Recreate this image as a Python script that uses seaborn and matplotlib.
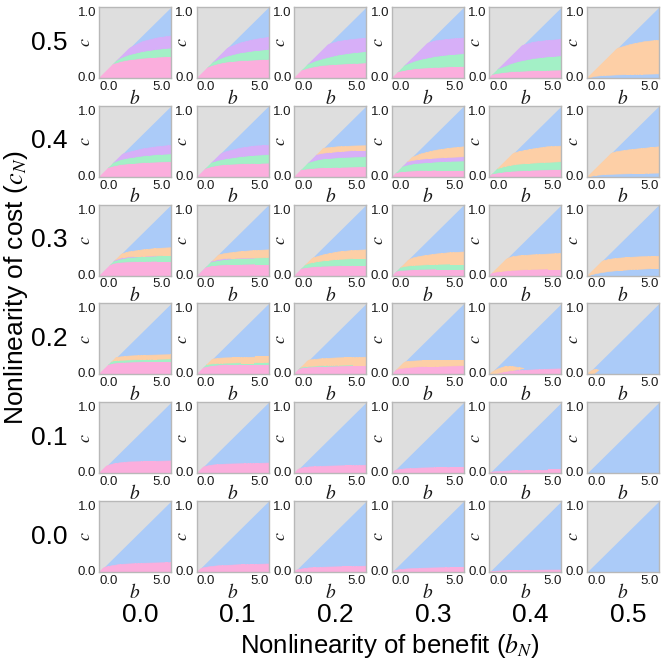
import matplotlib.pyplot as plt
import seaborn as sns
import numpy as np
from matplotlib.patches import Polygon

sns.set_theme(style="white")
plt.rcParams["font.family"] = ["Liberation Sans", "DejaVu Sans"]
plt.rcParams["mathtext.fontset"] = "stix"

# --- data ---
b_grid = [0, 0.5, 1, 1.5, 2, 3, 4, 5]          # benefit b (x of each panel)
b_nonlin = ["0.0", "0.1", "0.2", "0.3", "0.4", "0.5"]   # columns
c_nonlin = ["0.5", "0.4", "0.3", "0.2", "0.1", "0.0"]   # rows, top to bottom

colors = {
    "gray": "#dedede",
    "blue": "#abcbf8",
    "pink": "#fbaedd",
    "green": "#a3f0c6",
    "purple": "#d7aff8",
    "orange": "#fdcfa6",
}

# bands from the bottom up: (colour, upper boundary of c on b_grid)
# the region above the last band and below c = b/5 is blue
row_c05 = [
    [("pink",   [0.12, 0.17, 0.21, 0.24, 0.26, 0.285, 0.30, 0.31]),
     ("green",  [0.15, 0.19, 0.23, 0.29, 0.33, 0.38, 0.41, 0.43]),
     ("purple", [0.30, 0.33, 0.36, 0.39, 0.42, 0.52, 0.57, 0.60])],
    [("pink",   [0.10, 0.14, 0.18, 0.21, 0.23, 0.25, 0.26, 0.27]),
     ("green",  [0.14, 0.18, 0.22, 0.27, 0.31, 0.36, 0.39, 0.41]),
     ("purple", [0.30, 0.32, 0.35, 0.38, 0.42, 0.50, 0.55, 0.58])],
    [("pink",   [0.08, 0.12, 0.15, 0.17, 0.185, 0.20, 0.21, 0.22]),
     ("green",  [0.12, 0.16, 0.21, 0.25, 0.28, 0.33, 0.36, 0.38]),
     ("purple", [0.30, 0.34, 0.38, 0.42, 0.46, 0.52, 0.55, 0.57])],
    [("pink",   [0.07, 0.10, 0.12, 0.135, 0.145, 0.155, 0.165, 0.17]),
     ("green",  [0.10, 0.15, 0.20, 0.24, 0.27, 0.31, 0.335, 0.35]),
     ("purple", [0.30, 0.35, 0.40, 0.44, 0.47, 0.53, 0.555, 0.57])],
    [("pink",   [0.05, 0.07, 0.085, 0.095, 0.10, 0.11, 0.115, 0.12]),
     ("green",  [0.10, 0.13, 0.17, 0.21, 0.24, 0.28, 0.305, 0.32]),
     ("purple", [0.30, 0.34, 0.38, 0.42, 0.45, 0.51, 0.535, 0.55])],
    [("blue",   [0.0, 0.03, 0.04, 0.045, 0.05, 0.055, 0.06, 0.065]),
     ("orange", [0.20, 0.25, 0.30, 0.36, 0.42, 0.48, 0.52, 0.54])],
]

row_c04 = [
    [("pink",   [0.10, 0.13, 0.16, 0.18, 0.19, 0.205, 0.215, 0.22]),
     ("green",  [0.13, 0.17, 0.21, 0.25, 0.27, 0.30, 0.32, 0.33]),
     ("purple", [0.20, 0.25, 0.29, 0.32, 0.35, 0.40, 0.43, 0.45])],
    [("pink",   [0.09, 0.12, 0.15, 0.17, 0.18, 0.19, 0.195, 0.20]),
     ("green",  [0.13, 0.17, 0.21, 0.24, 0.26, 0.29, 0.31, 0.32]),
     ("purple", [0.20, 0.25, 0.29, 0.32, 0.36, 0.41, 0.44, 0.45])],
    [("pink",   [0.07, 0.11, 0.12, 0.13, 0.135, 0.14, 0.145, 0.15]),
     ("green",  [0.12, 0.16, 0.21, 0.24, 0.26, 0.275, 0.285, 0.29]),
     ("purple", [0.20, 0.25, 0.29, 0.32, 0.34, 0.36, 0.375, 0.38]),
     ("orange", [0.30, 0.33, 0.36, 0.39, 0.41, 0.43, 0.44, 0.445])],
    [("pink",   [0.05, 0.075, 0.085, 0.09, 0.095, 0.10, 0.10, 0.10]),
     ("green",  [0.10, 0.14, 0.17, 0.19, 0.20, 0.215, 0.225, 0.23]),
     ("purple", [0.15, 0.19, 0.22, 0.24, 0.255, 0.27, 0.28, 0.29]),
     ("orange", [0.20, 0.24, 0.27, 0.29, 0.33, 0.38, 0.41, 0.43])],
    [("pink",   [0.04, 0.06, 0.075, 0.085, 0.09, 0.10, 0.105, 0.11]),
     ("green",  [0.08, 0.12, 0.15, 0.17, 0.185, 0.20, 0.21, 0.22]),
     ("orange", [0.25, 0.28, 0.31, 0.33, 0.36, 0.40, 0.43, 0.44])],
    [("blue",   [0.0, 0.025, 0.035, 0.04, 0.045, 0.05, 0.055, 0.06]),
     ("orange", [0.25, 0.28, 0.31, 0.33, 0.36, 0.39, 0.41, 0.43])],
]

row_c03 = [
    [("pink",   [0.10, 0.14, 0.18, 0.195, 0.20, 0.205, 0.21, 0.21]),
     ("green",  [0.13, 0.17, 0.21, 0.24, 0.26, 0.275, 0.285, 0.29]),
     ("purple", [0.14, 0.18, 0.22, 0.255, 0.27, 0.278, 0.285, 0.29]),
     ("orange", [0.20, 0.24, 0.27, 0.31, 0.34, 0.37, 0.39, 0.40])],
    [("pink",   [0.09, 0.12, 0.145, 0.155, 0.16, 0.165, 0.17, 0.17]),
     ("green",  [0.12, 0.16, 0.20, 0.22, 0.235, 0.25, 0.255, 0.26]),
     ("purple", [0.13, 0.17, 0.21, 0.235, 0.247, 0.253, 0.255, 0.26]),
     ("orange", [0.20, 0.24, 0.27, 0.30, 0.32, 0.345, 0.36, 0.37])],
    [("pink",   [0.07, 0.11, 0.125, 0.135, 0.14, 0.145, 0.15, 0.15]),
     ("green",  [0.10, 0.14, 0.18, 0.20, 0.215, 0.235, 0.245, 0.25]),
     ("orange", [0.15, 0.20, 0.24, 0.27, 0.30, 0.34, 0.36, 0.37])],
    [("pink",   [0.05, 0.08, 0.085, 0.09, 0.095, 0.10, 0.10, 0.10]),
     ("green",  [0.08, 0.12, 0.14, 0.15, 0.155, 0.165, 0.17, 0.17]),
     ("orange", [0.15, 0.19, 0.22, 0.26, 0.28, 0.31, 0.33, 0.34])],
    [("pink",   [0.04, 0.06, 0.07, 0.08, 0.085, 0.095, 0.10, 0.10]),
     ("orange", [0.15, 0.19, 0.23, 0.27, 0.285, 0.30, 0.31, 0.32])],
    [("blue",   [0.0, 0.03, 0.05, 0.065, 0.075, 0.09, 0.10, 0.11]),
     ("orange", [0.12, 0.16, 0.21, 0.235, 0.25, 0.265, 0.275, 0.28])],
]

row_c02 = [
    [("pink",   [0.10, 0.14, 0.165, 0.175, 0.18, 0.185, 0.19, 0.19]),
     ("green",  [0.12, 0.16, 0.20, 0.205, 0.21, 0.215, 0.22, 0.225]),
     ("orange", [0.15, 0.20, 0.24, 0.255, 0.265, 0.275, 0.28, 0.285])],
    [("pink",   [0.07, 0.11, 0.13, 0.14, 0.145, 0.15, 0.15, 0.15]),
     ("green",  [0.10, 0.14, 0.155, 0.16, 0.165, 0.17, 0.17, 0.175]),
     ("orange", [0.15, 0.19, 0.22, 0.235, 0.24, 0.245, 0.25, 0.25])],
    [("pink",   [0.06, 0.10, 0.11, 0.115, 0.12, 0.125, 0.13, 0.13]),
     ("green",  [0.07, 0.11, 0.12, 0.125, 0.13, 0.135, 0.14, 0.14]),
     ("orange", [0.12, 0.17, 0.21, 0.22, 0.23, 0.24, 0.245, 0.25])],
    [("pink",   [0.05, 0.09, 0.10, 0.11, 0.115, 0.12, 0.125, 0.13]),
     ("orange", [0.10, 0.15, 0.19, 0.195, 0.20, 0.20, 0.20, 0.20])],
    [("pink",   [0.0, 0.02, 0.045, 0.055, 0.06, 0.07, 0.08, 0.085]),
     ("blue",   [0.0, 0.02, 0.045, 0.06, 0.075, 0.12, 0.12, 0.12]),
     ("orange", [0.02, 0.08, 0.115, 0.12, 0.105, 0.07, 0.07, 0.07])],
    [("blue",   [0.0, 0.02, 0.10, 0.10, 0.10, 0.10, 0.10, 0.10]),
     ("orange", [0.03, 0.08, 0.06, 0.06, 0.06, 0.06, 0.06, 0.06])],
]

row_c01 = [
    [("pink", [0.07, 0.11, 0.14, 0.155, 0.165, 0.17, 0.175, 0.18])],
    [("pink", [0.06, 0.10, 0.12, 0.13, 0.135, 0.14, 0.145, 0.15])],
    [("pink", [0.05, 0.08, 0.095, 0.10, 0.105, 0.11, 0.115, 0.12])],
    [("pink", [0.04, 0.06, 0.07, 0.075, 0.08, 0.085, 0.09, 0.09])],
    [("pink", [0.02, 0.03, 0.035, 0.04, 0.04, 0.045, 0.05, 0.05])],
    [],
]

row_c00 = [
    [("pink", [0.05, 0.08, 0.10, 0.115, 0.12, 0.13, 0.135, 0.14])],
    [("pink", [0.04, 0.07, 0.085, 0.095, 0.10, 0.11, 0.115, 0.12])],
    [("pink", [0.03, 0.05, 0.065, 0.07, 0.075, 0.08, 0.085, 0.09])],
    [("pink", [0.02, 0.04, 0.05, 0.055, 0.06, 0.065, 0.07, 0.07])],
    [("pink", [0.01, 0.02, 0.025, 0.028, 0.03, 0.032, 0.034, 0.035])],
    [],
]

rows = [row_c05, row_c04, row_c03, row_c02, row_c01, row_c00]

# --- layout (pixels of the 668x665 figure) ---
W, H = 668, 665
fig = plt.figure(figsize=(W / 100, H / 100), dpi=100)
col_left = 99
col_step = 97.6
row_top = 7
row_step = 98.8
pw, ph = 72, 71


def draw_panel(ax, bands):
    b = np.array(b_grid)
    ax.set_facecolor(colors["gray"])
    diag = b / b[-1]
    ax.fill_between(b, 0, diag, color=colors["blue"], lw=0)
    tri = Polygon([(b[0], 0), (b[-1], 0), (b[-1], 1)], closed=True,
                  transform=ax.transData)
    lower = np.zeros_like(b)
    for name, upper in bands:
        upper = np.array(upper)
        if name != "blue":
            poly = ax.fill_between(b, lower, upper, where=upper > lower,
                                   interpolate=True, color=colors[name],
                                   lw=0.4, edgecolor=colors[name])
            poly.set_clip_path(tri)
        lower = upper
    ax.set_xlim(b[0], b[-1])
    ax.set_ylim(0, 1)
    ax.set_xticks([0, 5])
    ax.set_xticklabels(["0.0", "5.0"])
    ax.set_yticks([0, 1])
    ax.set_yticklabels(["0.0", "1.0"])
    ax.tick_params(length=0, labelsize=9.5, labelcolor="#1a1a1a", pad=2)
    xl = ax.get_xticklabels()
    xl[0].set_ha("left")
    xl[1].set_ha("right")
    yl = ax.get_yticklabels()
    yl[0].set_va("center")
    yl[1].set_va("top")
    ax.set_xlabel("$b$", fontsize=14, color="#1a1a1a")
    ax.xaxis.set_label_coords(0.5, -0.15)
    ax.text(-0.19, 0.5, "$c$", transform=ax.transAxes, fontsize=13,
            color="#1a1a1a", rotation=90, ha="center", va="center")
    for s in ax.spines.values():
        s.set_color("#b8b8b8")
        s.set_linewidth(1)


for i, row in enumerate(rows):
    top = row_top + i * row_step
    for j, bands in enumerate(row):
        left = col_left + j * col_step
        ax = fig.add_axes([left / W, 1 - (top + ph) / H, pw / W, ph / H])
        draw_panel(ax, bands)
    fig.text(49 / W, 1 - (top + ph / 2) / H, c_nonlin[i], fontsize=19,
             ha="center", va="center", color="black")

for j, lab in enumerate(b_nonlin):
    cx = col_left + j * col_step + pw / 2 + 5
    fig.text(cx / W, 1 - 615 / H, lab, fontsize=19, ha="center",
             va="center", color="black")

fig.text(390 / W, 1 - 645 / H, "Nonlinearity of benefit ($b_N$)",
         fontsize=18.5, ha="center", va="center", color="black")
fig.text(16 / W, 1 - 288 / H, "Nonlinearity of cost ($c_N$)",
         fontsize=19, ha="center", va="center", rotation=90, color="black")

plt.savefig("out.png", dpi=100)
